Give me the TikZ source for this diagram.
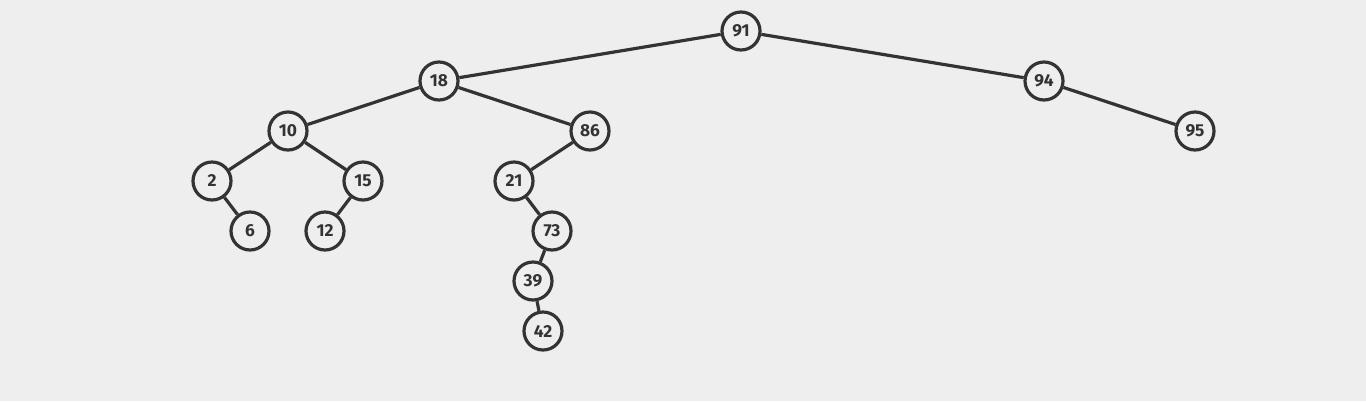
\documentclass[tikz,border=0pt]{standalone}
\usepackage{fontspec}
\setmainfont{Fira Sans}
\definecolor{bg}{RGB}{238,238,239}
\definecolor{ink}{RGB}{51,51,51}
\begin{document}
\begin{tikzpicture}[x=0.75pt,y=-0.75pt,
  tnode/.style={circle,draw=ink,line width=2.4pt,fill=bg,minimum size=28.5pt,inner sep=0pt,
    font=\fontsize{13}{13}\selectfont\bfseries,text=ink},
  tedge/.style={draw=ink,line width=2.4pt}]
\fill[bg] (0,0) rectangle (1366,401);
\useasboundingbox (0,0) rectangle (1366,401);
\node[tnode] (n91) at (741,31) {91};
\node[tnode] (n18) at (439,81) {18};
\node[tnode] (n94) at (1044,81) {94};
\node[tnode] (n10) at (288,131) {10};
\node[tnode] (n86) at (590,131) {86};
\node[tnode] (n95) at (1195,131) {95};
\node[tnode] (n2) at (212,181) {2};
\node[tnode] (n15) at (363,181) {15};
\node[tnode] (n21) at (514,181) {21};
\node[tnode] (n6) at (250,231) {6};
\node[tnode] (n12) at (325,231) {12};
\node[tnode] (n73) at (552,231) {73};
\node[tnode] (n39) at (533,281) {39};
\node[tnode] (n42) at (543,331) {42};
\foreach \a/\b in {91/18,91/94,18/10,18/86,94/95,10/2,10/15,86/21,2/6,15/12,21/73,73/39,39/42}
  \draw[tedge] (n\a) -- (n\b);
\end{tikzpicture}
\end{document}
